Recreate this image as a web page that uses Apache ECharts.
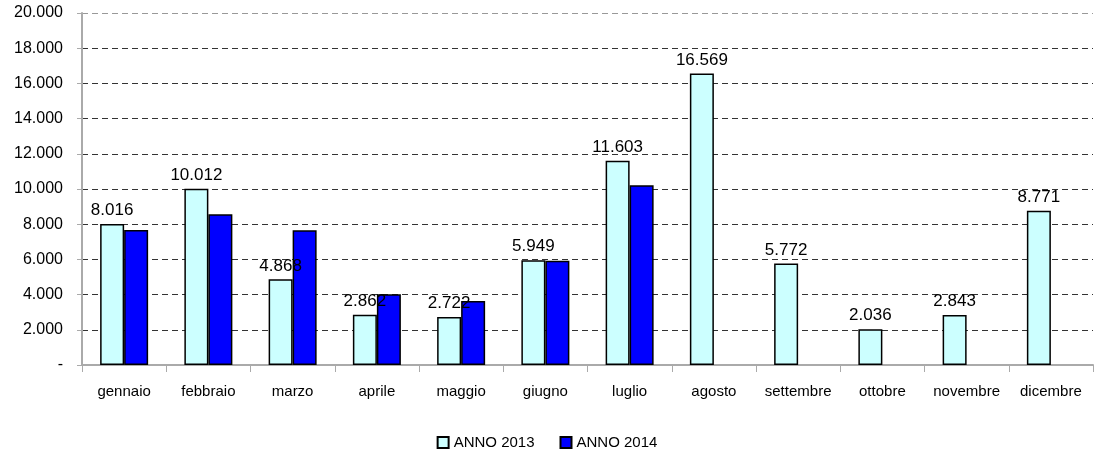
<!DOCTYPE html>
<html>
<head>
<meta charset="utf-8">
<script src="https://cdn.jsdelivr.net/npm/echarts@6/dist/echarts.min.js"></script>
<style>
  html, body { margin: 0; padding: 0; background: #fff; }
  #chart { width: 1094px; height: 457px; }
</style>
</head>
<body>
<div id="chart"></div>
<script>
// dati
var mesi = ['gennaio', 'febbraio', 'marzo', 'aprile', 'maggio', 'giugno',
    'luglio', 'agosto', 'settembre', 'ottobre', 'novembre', 'dicembre'];
var anno2013 = [8016, 10012, 4868, 2862, 2722, 5949, 11603, 16569, 5772, 2036, 2843, 8771];
var anno2014 = [7670, 8560, 7650, 4020, 3640, 5930, 10210, null, null, null, null, null];
var nomiSerie = ['ANNO 2013', 'ANNO 2014'];

// 8016 -> "8.016", 0 -> "-"
function migliaia(v) {
    if (v === 0) return '-';
    return String(v).replace(/\B(?=(\d{3})+(?!\d))/g, '.');
}

var font = 'Liberation Sans, Arial, sans-serif';
// ultima linea (20.000) piu' chiara
var gridColors = ['#333', '#333', '#333', '#333', '#333', '#333', '#333', '#333', '#333', '#333', '#999'];

var myChart = echarts.init(document.getElementById('chart'));
var option = {
    animation: false,
    textStyle: { fontFamily: font },
    grid: {
        left: 82,
        right: 1,
        top: 13,
        bottom: 92
    },
    legend: {
        bottom: 2,
        left: 'center',
        itemWidth: 11,
        itemHeight: 11,
        itemGap: 25,
        icon: 'rect',
        textStyle: { fontSize: 15, color: '#000', fontFamily: font },
        data: nomiSerie
    },
    xAxis: {
        type: 'category',
        data: mesi,
        axisLine: { lineStyle: { color: '#aaa', width: 2 } },
        axisTick: { show: true, length: 7, lineStyle: { color: '#aaa' } },
        axisLabel: { color: '#000', fontSize: 15, margin: 19, interval: 0, fontFamily: font }
    },
    yAxis: {
        type: 'value',
        min: 0,
        max: 20000,
        interval: 2000,
        axisLine: { show: true, lineStyle: { color: '#aaa', width: 2 } },
        axisTick: { show: true, length: 5, lineStyle: { color: '#aaa' } },
        axisLabel: {
            color: '#000',
            fontSize: 16,
            margin: 19,
            fontFamily: font,
            formatter: migliaia
        },
        splitLine: {
            lineStyle: { color: gridColors, type: [6, 4], width: 1 }
        }
    },
    series: [
        {
            name: nomiSerie[0],
            type: 'bar',
            data: anno2013,
            barWidth: 24,
            barGap: '0%',
            itemStyle: { color: '#ccffff', borderColor: '#000', borderWidth: 1.5 },
            label: {
                show: true,
                position: 'top',
                distance: 5,
                color: '#000',
                fontSize: 17,
                fontFamily: font,
                formatter: function (p) { return migliaia(p.value); }
            }
        },
        {
            name: nomiSerie[1],
            type: 'bar',
            data: anno2014,
            barWidth: 24,
            itemStyle: { color: '#0000ff', borderColor: '#000', borderWidth: 1.5 }
        }
    ]
};
myChart.setOption(option);
</script>
</body>
</html>
